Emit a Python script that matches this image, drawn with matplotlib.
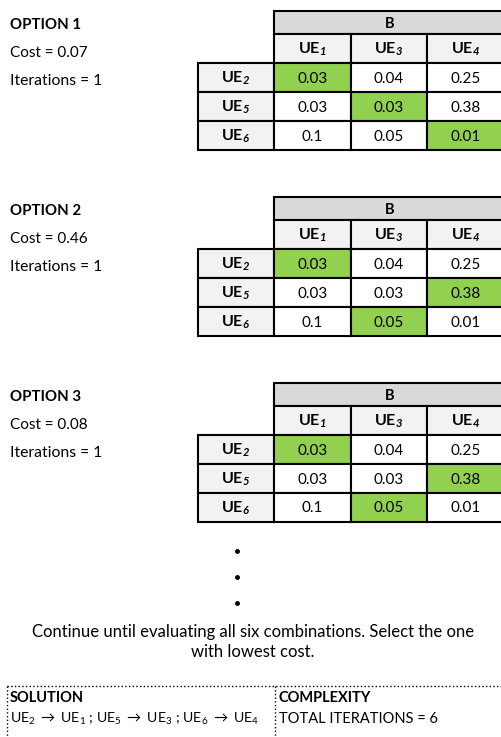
import matplotlib
matplotlib.use("agg")
import matplotlib.pyplot as plt
from matplotlib.patches import Rectangle

#### Data ####
col_labels = ["1", "3", "4"]
row_labels = ["2", "5", "6"]
values = [["0.03", "0.04", "0.25"],
          ["0.03", "0.03", "0.38"],
          ["0.1", "0.05", "0.01"]]
option_names = ["OPTION 1", "OPTION 2", "OPTION 3"]
option_costs = ["0.07", "0.46", "0.08"]
option_iters = ["1", "1", "1"]
# chosen column for each row, per option
option_picks = [[0, 1, 2], [0, 2, 1], [0, 2, 1]]
note_text = "Continue until evaluating all six combinations. Select the one\nwith lowest cost."
solution_head = "SOLUTION"
solution_pairs = [("2", "1"), ("5", "3"), ("6", "4")]
complexity_head = "COMPLEXITY"
complexity_text = "TOTAL ITERATIONS = 6"

#### Style ####
plt.rcParams["font.family"] = ["Lato", "DejaVu Sans"]
plt.rcParams["mathtext.fontset"] = "custom"
plt.rcParams["mathtext.rm"] = "Lato"
plt.rcParams["mathtext.it"] = "Lato:italic"
plt.rcParams["mathtext.bf"] = "Lato:bold"
plt.rcParams["mathtext.bfit"] = "Lato:bold:italic"

green = "#92d050"
grey_dark = "#d9d9d9"
grey_light = "#f2f2f2"
fs = 10.5

W, H = 502, 737
fig = plt.figure(figsize=(W / 100, H / 100), dpi=100)
ax = fig.add_axes([0, 0, 1, 1])
ax.set_xlim(0, W)
ax.set_ylim(H, 0)
ax.axis("off")

# table geometry (pixels)
x0 = 198
cw = [76, 77, 76, 78]
hB, hC, hR = 23, 29, 29
xs = [x0]
for w in cw:
    xs.append(xs[-1] + w)


def cell(x, y, w, h, fc, txt=None, bold=False, size=11):
    ax.add_patch(Rectangle((x, y), w, h, fc=fc, ec="black", lw=1.5, zorder=2))
    if txt is not None:
        ax.text(x + w / 2, y + h / 2 + 1, txt, ha="center", va="center", fontsize=size,
                fontweight="bold" if bold else "normal", zorder=3)


for k in range(len(option_names)):
    top = 11 + 186 * k
    # left text block
    ax.text(10, top + 14, option_names[k], fontsize=10.8, fontweight="bold", va="center")
    ax.text(10, top + 42, "Cost = " + option_costs[k], fontsize=11, va="center")
    ax.text(10, top + 70, "Iterations = " + option_iters[k], fontsize=11.3, va="center")

    # B header
    cell(xs[1], top, xs[4] - xs[1], hB, grey_dark, "B", bold=True, size=10.5)
    # column headers
    for j, c in enumerate(col_labels):
        cell(xs[j + 1], top + hB, cw[j + 1], hC, grey_light,
             r"$\mathbf{UE}_{\mathbfit{%s}}$" % c, size=11.5)
    # rows
    for i, r in enumerate(row_labels):
        y = top + hB + hC + i * hR
        cell(xs[0], y, cw[0], hR, grey_light, r"$\mathbf{UE}_{\mathbfit{%s}}$" % r, size=11.5)
        for j in range(len(col_labels)):
            fc = green if option_picks[k][i] == j else "white"
            cell(xs[j + 1], y, cw[j + 1], hR, fc, values[i][j])

# continuation dots
for y in [551, 577, 603]:
    ax.plot(237, y, "o", color="black", ms=2.5)

ax.text(253, 642, note_text, ha="center", va="center", fontsize=12, linespacing=1.3)

# solution / complexity box
box_top = 686
ax.plot([7, W], [box_top, box_top], ls=":", color="black", lw=1)
ax.plot([7, 7], [box_top, H], ls=":", color="black", lw=1)
ax.plot([275, 275], [box_top, H], ls=":", color="black", lw=1)

ax.text(10, box_top + 12, solution_head, fontsize=fs, fontweight="bold", va="center")
sol = " ; ".join(r"UE$_{%s}$ $\rightarrow$ UE$_{\mathit{%s}}$" % p for p in solution_pairs)
ax.text(10, box_top + 33, sol, fontsize=10.2, va="center")
ax.text(279, box_top + 12, complexity_head, fontsize=fs, fontweight="bold", va="center")
ax.text(279, box_top + 33, complexity_text, fontsize=fs, va="center")

fig.savefig("out.png", dpi=100)
